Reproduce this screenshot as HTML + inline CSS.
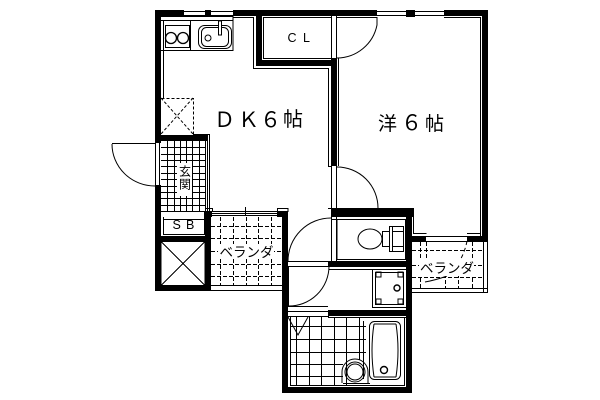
<!DOCTYPE html>
<html><head><meta charset="utf-8"><style>html,body{margin:0;padding:0;background:#fff;width:600px;height:400px;overflow:hidden}svg{display:block}text{font-family:"Liberation Sans","Noto Sans CJK JP",sans-serif;fill:#000}</style></head><body>
<svg width="600" height="400" viewBox="0 0 600 400" xmlns="http://www.w3.org/2000/svg">
<g fill="#000" shape-rendering="crispEdges">
<rect x="155" y="10" width="333" height="6"/>
<rect x="155" y="10" width="6" height="133"/>
<rect x="155" y="185" width="6" height="106"/>
<rect x="482" y="10" width="6" height="231"/>
<rect x="256" y="16" width="6" height="50"/>
<rect x="256" y="60" width="81" height="6"/>
<rect x="331" y="58" width="6" height="108"/>
<rect x="161" y="135" width="47" height="6"/>
<rect x="204" y="211" width="8" height="6"/>
<rect x="155" y="236" width="56" height="6"/>
<rect x="205" y="211" width="6" height="80"/>
<rect x="155" y="286" width="56" height="5"/>
<rect x="277" y="211" width="11" height="6"/>
<rect x="282" y="211" width="6" height="182"/>
<rect x="331" y="209" width="82" height="8"/>
<rect x="406" y="209" width="6" height="184"/>
<rect x="412" y="236" width="14" height="6"/>
<rect x="467" y="236" width="21" height="6"/>
<rect x="328" y="261" width="84" height="6"/>
<rect x="328" y="310" width="84" height="6"/>
<rect x="282" y="387" width="130" height="6"/>
</g>
<g fill="#fff" shape-rendering="crispEdges">
<rect x="184" y="10" width="21" height="6"/><rect x="211" y="10" width="22" height="6"/>
<rect x="377" y="10" width="29" height="6"/><rect x="415" y="10" width="29" height="6"/>
<rect x="331" y="16" width="6" height="42"/>
<rect x="331" y="166" width="6" height="43"/>
<rect x="155" y="143" width="6" height="42"/>
<rect x="288" y="311" width="40" height="5"/>
<rect x="331" y="217" width="6" height="44"/>
</g>
<g fill="none" stroke="#000" stroke-width="1" shape-rendering="crispEdges">
<path d="M184 11.500H205M184 15.500H205M211 11.500H233M211 15.500H233M377 11.500H406M377 15.500H406M415 11.500H444M415 15.500H444M406 16.500H415"/>
<path d="M161 16.500H233V50.500H161M161 20.500H233M190.500 20.500V50.500M163.500 20.500V98M165.500 25.500H189.500V47.500H165.500Z"/>
<path d="M233 17.500H253.500V68.500H328.500V166.500H331"/>
<path d="M263.500 17V58.500H331M263 17.500H331M331.500 16V58M336.500 16V58"/>
<path d="M337 17.500H377M444 17.500H480.500V236M338.500 58V166"/>
<path d="M331.500 166V209M336.500 166V209M328.500 209V208.500H413.500V233.500H426.500M331 219.500H405.500V259.500H337V219.500M331.500 217V261M336.500 217V261"/>
<path d="M426 236.500H467M426 241.500H467M467 233.500H480"/>
<path d="M412 288.500H488M412 292.500H488M483.500 241V292M487.500 241V292"/>
<path d="M205.500 141V211M207.500 141V211M209.500 135V211M193 134.500H209.500V141M205 208.500H212.500V211"/>
<path d="M163.500 217V234.500H204.500V217M163 219.500H205"/>
<path d="M161 241.500H205V285.500H161ZM161 241.500L205 285.500M205 241.500L161 285.500"/>
<path d="M212 211.500H277M212 213.500H277M212 215.500H277M245.500 207V216M277.500 211V208.500H288V212M211 285.500H282M211 290.500H282"/>
<path d="M112 143.500H155M155.500 143V185M159.500 143V185"/>
<path d="M288 261.500H331M288 266.500H331M288.500 266V306.500M288 306.500H328"/>
<path d="M329 269.500H406M372.500 269V307.500H406M375.500 272.500H403.500V304.500H375.500Z"/>
<path d="M376 272h5v5h-5zM398 272h5v5h-5zM376 299h5v5h-5zM398 299h5v5h-5z"/>
<path d="M288 311.500H328M288 316.500H328M328.500 310V317.500H406"/>
<path d="M290.500 317V385.500H404.500V317"/>
<path d="M296.500 317V385M309.500 317V385M321.500 317V385M334.500 317V385M346.500 317V385M359.500 317V360M290 326.500H366M290 339.500H366M290 352.500H366M290 364.500H343M290 376.500H343"/>
<path d="M363.500 321V379M343 383.500H370"/>
</g>
<g fill="none" stroke="#000" stroke-width="1">
<path d="M377 17V25A41 41 0 0 1 337 58"/>
<path d="M337 167A41 41 0 0 1 378 208"/>
<path d="M331 218A43 43 0 0 0 288 261"/>
<path d="M288 306A40 40 0 0 0 329 266"/>
<path d="M112 144A43 42 0 0 0 155 186"/>
<path d="M288 317L298 335L308 317"/>
<rect x="198.500" y="25.500" width="33" height="23" rx="6"/>
<rect x="201.500" y="27.500" width="27" height="19" rx="5"/>
<rect x="218.500" y="21" width="3" height="14" fill="#fff"/>
<circle cx="208" cy="38" r="3"/>
<circle cx="171" cy="38" r="5.500" stroke-width="1.300"/><circle cx="183" cy="38" r="5.500" stroke-width="1.300"/>
<rect x="369.500" y="321.500" width="31" height="58" rx="5"/>
<path d="M374 324Q370 350 374 377M396 324Q400 350 396 377M374 324H396M374 377H396"/>
<circle cx="384" cy="370" r="3.500" stroke-width="1.400"/>
<circle cx="397" cy="288" r="3" stroke-width="1.400"/>
<path d="M342 383V372A13 13 0 1 1 368 372V383"/>
<circle cx="355" cy="372" r="10"/><circle cx="355" cy="372" r="8"/>
<ellipse cx="370" cy="239" rx="12" ry="10"/>
<rect x="382.500" y="231.500" width="9" height="15" fill="#fff"/>
<rect x="389.500" y="226.500" width="14" height="25" fill="#fff"/>
<path d="M392.500 226.500V251M392.500 231.500H403M392.500 246.500H403"/>
<path d="M425 282Q436 280 447 276"/>
<path d="M467 241Q463 262 447 276" stroke-dasharray="4 3"/>
</g>
<g fill="none" stroke="#000" stroke-width="1" stroke-dasharray="3 2">
<path d="M161.500 98.500H193.500V135M161 98L193 134M193 98L161 134"/>
</g>
<g fill="none" stroke="#000" stroke-width="1" stroke-dasharray="4 2" shape-rendering="crispEdges">
<path d="M220.500 217V285M233.500 217V285M246.500 217V285M258.500 217V285M271.500 217V285M211 226.500H282M211 238.500H282M211 251.500H282M211 264.500H282M211 276.500H282"/>
<path d="M420.500 242V288M426.500 242V262M445.500 262V288M458.500 262V288M472.500 242V288M412 250.500H483M412 265.500H483M412 277.500H483"/>
</g>
<g fill="none" stroke="#000" stroke-width="1" shape-rendering="crispEdges">
<path d="M161 147.500H205M161 154.500H205M161 160.500H205M161 166.500H205M161 173.500H205M161 179.500H205M161 186.500H205M161 192.500H205M161 198.500H205M161 205.500H205M161 211.500H205"/>
<path d="M167.500 141V211M174.500 141V211M180.500 141V211M186.500 141V211M192.500 141V211M199.500 141V211"/>
</g>
<rect x="177" y="163" width="15" height="33" fill="#fff"/>
<rect x="218" y="244" width="56" height="15" fill="#fff"/>
<rect x="419" y="260" width="55" height="16" fill="#fff"/>
<g font-size="12.500">
<text x="179" y="175.500" font-size="12">玄</text><text x="179" y="188.500" font-size="12">関</text>
<text x="172.500" y="229">S</text><text x="186" y="229">B</text>
<text x="287.500" y="42">C</text><text x="303" y="42">L</text>
</g>
<g font-size="21">
<text x="214" y="127">Ｄ</text><text x="238" y="127">Ｋ</text><text x="260" y="127">６</text><text x="283" y="126" font-size="20">帖</text>
<text x="378" y="130" font-size="19">洋</text><text x="401" y="130">６</text><text x="425" y="130" font-size="19">帖</text>
</g>
<g font-size="13.500">
<text x="219.500" y="257">ベランダ</text>
<text x="420" y="273">ベランダ</text>
</g>
</svg>
</body></html>
